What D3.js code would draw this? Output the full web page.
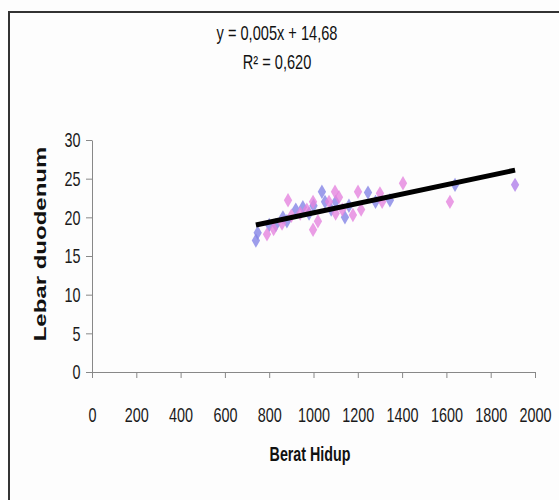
<!DOCTYPE html>
<html>
<head>
<meta charset="utf-8">
<script src="https://cdn.jsdelivr.net/npm/d3@7"></script>
<style>
  body { margin: 0; background: #fff; }
  svg { display: block; font-family: "Liberation Sans", Arial, sans-serif; }
</style>
</head>
<body>
<svg></svg>
<script>
const width = 559, height = 500;

// data: [Berat Hidup, Lebar duodenum]
const blueSeries = [
  [740, 17], [748, 18], [800, 19], [830, 19], [862, 20], [880, 19.5],
  [920, 21], [952, 21.3], [980, 20.5], [1000, 21.5], [1038, 23.3], [1052, 22],
  [1080, 21], [1100, 22], [1142, 20], [1160, 21.5], [1246, 23.2], [1280, 22],
  [1345, 22.2], [1639, 24.2]
];
const pinkSeries = [
  [790, 17.8], [820, 18.5], [858, 19.2], [885, 22.2], [900, 20.2], [940, 20.5],
  [970, 21], [998, 22], [998, 18.4], [1020, 19.5], [1070, 22], [1097, 23.3],
  [1100, 20.5], [1115, 22.6], [1130, 21], [1178, 20.3], [1201, 23.3], [1215, 21],
  [1300, 23.1], [1310, 22], [1404, 24.4], [1616, 22]
];
const purplePoints = [[1910, 24.2]];
const trendLine = [[740, 19.0], [1910, 26.1]];

const xTicks = [0, 200, 400, 600, 800, 1000, 1200, 1400, 1600, 1800, 2000];
const yTicks = [0, 5, 10, 15, 20, 25, 30];
const equationLines = ["y = 0,005x + 14,68", "R\u00b2 = 0,620"];

const svg = d3.select("svg")
  .attr("width", width)
  .attr("height", height);

svg.append("rect")
  .attr("width", width).attr("height", height)
  .attr("fill", "#fdfdfd");

// outer frame (right and bottom edges run off the picture)
svg.append("rect")
  .attr("x", 9).attr("y", 12)
  .attr("width", 620).attr("height", 520)
  .attr("fill", "none")
  .attr("stroke", "#333")
  .attr("stroke-width", 2);

const x = d3.scaleLinear().domain([0, 2000]).range([92, 535]);
const y = d3.scaleLinear().domain([0, 30]).range([372, 140]);

// y axis
const yAxis = svg.append("g")
  .attr("transform", `translate(${x(0)},0)`)
  .call(d3.axisLeft(y).tickValues(yTicks).tickFormat(d3.format("d")).tickSize(6).tickSizeOuter(0));
yAxis.select(".domain").attr("stroke", "#888");
yAxis.selectAll(".tick line").attr("stroke", "#888");
yAxis.selectAll(".tick text")
  .attr("x", -16)
  .attr("dy", "0.34em")
  .attr("font-size", 20)
  .attr("fill", "#1a1a1a")
  .attr("transform", "scale(0.72,1)");

// x axis
const xAxis = svg.append("g")
  .attr("transform", `translate(0,${y(0)})`)
  .call(d3.axisBottom(x).tickValues(xTicks).tickFormat(d3.format("d")).tickSize(6).tickSizeOuter(0));
xAxis.select(".domain").attr("stroke", "#888");
xAxis.selectAll(".tick line").attr("stroke", "#888");
xAxis.selectAll(".tick text")
  .attr("y", 50)
  .attr("dy", 0)
  .attr("font-size", 20)
  .attr("fill", "#1a1a1a")
  .attr("transform", "scale(0.72,1)");

// points
const diamond = d3.symbol().type(d3.symbolDiamond).size(60);

function drawPoints(data, color) {
  svg.append("g").selectAll("path")
    .data(data)
    .enter().append("path")
    .attr("d", diamond)
    .attr("transform", d => `translate(${x(d[0])},${y(d[1])})`)
    .attr("fill", color)
    .attr("fill-opacity", 0.8);
}
drawPoints(blueSeries, "#8585e6");
drawPoints(pinkSeries, "#e585de");
drawPoints(purplePoints, "#b080ea");

// trend line
svg.append("path")
  .datum(trendLine)
  .attr("d", d3.line().x(d => x(d[0])).y(d => y(d[1])))
  .attr("stroke", "#000")
  .attr("stroke-width", 5)
  .attr("fill", "none");

// equation
svg.append("g").selectAll("text")
  .data(equationLines)
  .enter().append("text")
  .attr("transform", (d, i) => `translate(277,${40 + i * 29}) scale(0.73,1)`)
  .attr("text-anchor", "middle")
  .attr("font-size", 20)
  .attr("fill", "#111")
  .text(d => d);

// axis titles
svg.append("text")
  .attr("transform", "translate(310,461) scale(0.68,1)")
  .attr("text-anchor", "middle")
  .attr("font-size", 21)
  .attr("font-weight", "bold")
  .attr("fill", "#111")
  .text("Berat Hidup");

svg.append("text")
  .attr("transform", "translate(46,244) rotate(-90) scale(1,0.66)")
  .attr("text-anchor", "middle")
  .attr("font-size", 24)
  .attr("font-weight", "bold")
  .attr("fill", "#111")
  .text("Lebar duodenum");
</script>
</body>
</html>
